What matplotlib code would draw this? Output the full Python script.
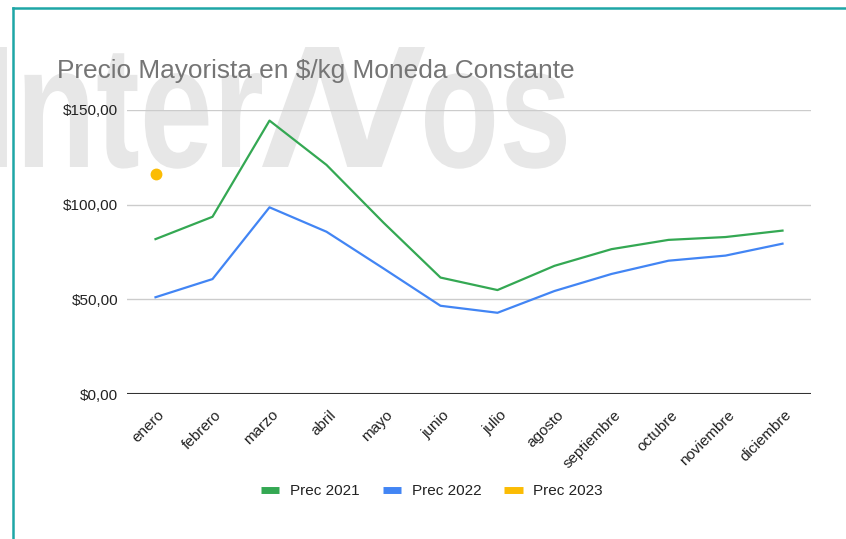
import numpy as np
import matplotlib.pyplot as plt
from matplotlib.lines import Line2D
from matplotlib.textpath import TextPath
from matplotlib.patches import PathPatch
from matplotlib.font_manager import FontProperties
from matplotlib.transforms import Affine2D, IdentityTransform, ScaledTranslation
from matplotlib.ticker import FuncFormatter

meses = ['enero', 'febrero', 'marzo', 'abril', 'mayo', 'junio', 'julio',
         'agosto', 'septiembre', 'octubre', 'noviembre', 'diciembre']
prec_2021 = [81.8, 93.6, 144.4, 121.0, 90.5, 61.5, 54.9, 67.7, 76.5, 81.4, 82.9, 86.3]
prec_2022 = [51.1, 60.7, 98.6, 85.7, 66.3, 46.6, 42.9, 54.4, 63.4, 70.4, 73.1, 79.4]
prec_2023 = [116.3] + [np.nan] * 11
yticks = [0, 50, 100, 150]

W, H = 846, 539
plt.rcParams['font.family'] = ['Liberation Sans', 'DejaVu Sans']

fig = plt.figure(figsize=(W / 100, H / 100), dpi=100)
ax = fig.add_axes([127 / W, 1 - 394 / H, (811 - 127) / W, (394 - 110) / H])

# watermark "InterNos" behind everything, built in three pieces
wm_font = FontProperties(family='Liberation Sans', weight='bold')
cap = TextPath((0, 0), 'I', size=100, prop=wm_font).get_extents().height
sy = 120 / cap
base = H - 167
for txt, xa, xb, skew in [('Inter', -12, 262, 0), ('N', 262, 425, 0.3), ('os', 425, 566, 0)]:
    tp = TextPath((0, 0), txt, size=100, prop=wm_font)
    tp = Affine2D().skew(skew, 0).transform_path(tp)
    bb = tp.get_extents()
    tr = Affine2D().translate(-bb.x0, 0).scale((xb - xa) / bb.width, sy).translate(xa, base)
    fig.add_artist(PathPatch(tr.transform_path(tp), transform=IdentityTransform(),
                             facecolor='#e7e7e7', edgecolor='none', zorder=-5))
ax.set_facecolor('none')

x = np.arange(len(meses))
ax.plot(x, prec_2021, color='#34a853', lw=1.6, label='Prec 2021', zorder=3)
ax.plot(x, prec_2022, color='#4285f4', lw=1.6, label='Prec 2022', zorder=3)
ax.plot(x, prec_2023, 'o', color='#fbbc04', ms=7.5, label='Prec 2023', zorder=3)

ax.set_xlim(-0.5, len(meses) - 0.5)
ax.set_ylim(0, 150)
ax.set_yticks(yticks)
ax.yaxis.set_major_formatter(FuncFormatter(lambda v, p: '$%d,00' % v))
ax.grid(axis='y', color='#cccccc', lw=1)
ax.axhline(0, color='#333333', lw=1.5, zorder=2)
for s in ax.spines.values():
    s.set_visible(False)
ax.tick_params(axis='y', length=0, pad=6.5, labelsize=11, labelcolor='#222222')
ax.tick_params(axis='x', length=0, pad=13.5, labelsize=11, labelcolor='#222222')
ax.set_xticks(x)
ax.set_xticklabels(meses, rotation=45, ha='right', va='center', rotation_mode='anchor')
off = ScaledTranslation(7 / 100, 0, fig.dpi_scale_trans)
for lab in ax.get_xticklabels():
    lab.set_transform(lab.get_transform() + off)

fig.text(57 / W, 1 - 78 / H, 'Precio Mayorista en $/kg Moneda Constante',
         fontsize=18.9, color='#757575', ha='left', va='baseline')

handles = [Line2D([], [], color=c, lw=5, solid_capstyle='butt')
           for c in ['#34a853', '#4285f4', '#fbbc04']]
fig.legend(handles, ['Prec 2021', 'Prec 2022', 'Prec 2023'], loc='center',
           bbox_to_anchor=(432 / W, 1 - 491 / H), ncol=3, frameon=False,
           fontsize=11, handlelength=1.2, handletextpad=0.7, columnspacing=1.5,
           labelcolor='#222222')

# teal frame
teal = '#1ea6a6'
fig.add_artist(Line2D([12.5 / W, 1], [1 - 8 / H, 1 - 8 / H], color=teal, lw=1.8))
fig.add_artist(Line2D([12.5 / W, 12.5 / W], [0, 1 - 8 / H], color=teal, lw=1.8))

fig.savefig('out.png', dpi=100)
